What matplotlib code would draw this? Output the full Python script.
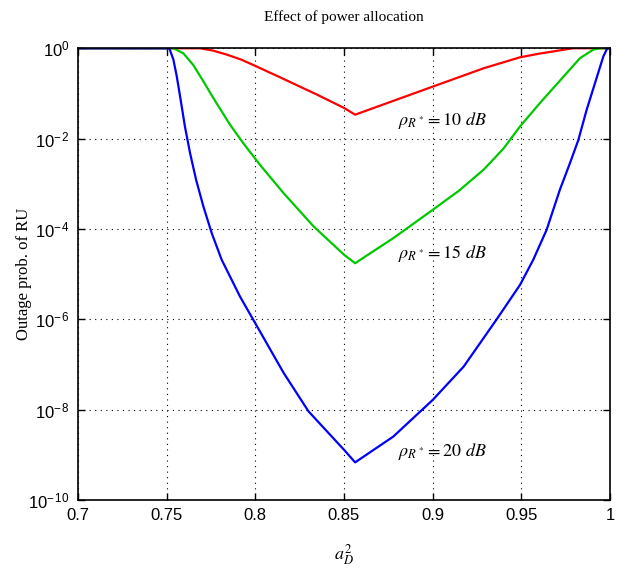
import numpy as np
import matplotlib
matplotlib.use('Agg')
import matplotlib.pyplot as plt
from matplotlib.ticker import FixedLocator, FixedFormatter

plt.rcParams['mathtext.fontset'] = 'stix'

# Datos (log10 de la probabilidad de corte)
x_red = [0.70, 0.7688, 0.776, 0.7839, 0.792, 0.800, 0.816, 0.835, 0.850, 0.8563,
         0.900, 0.929, 0.9493, 0.960, 0.968, 0.979, 1.0]
logy_red = [0, 0, -0.05, -0.14, -0.25, -0.39, -0.68, -1.03, -1.32, -1.47,
            -0.85, -0.44, -0.20, -0.12, -0.07, 0, 0]

x_green = [0.70, 0.7538, 0.7594, 0.765, 0.7707, 0.7763, 0.7857, 0.7932, 0.8026, 0.816,
           0.833, 0.850, 0.8563, 0.878, 0.900, 0.915, 0.929, 0.940, 0.9493, 0.9606,
           0.9681, 0.9756, 0.9831, 0.9906, 0.9944, 1.0]
logy_green = [0, 0, -0.11, -0.37, -0.73, -1.10, -1.69, -2.10, -2.58, -3.21,
              -3.95, -4.57, -4.76, -4.20, -3.58, -3.15, -2.68, -2.22, -1.73, -1.21,
              -0.88, -0.55, -0.22, -0.03, 0, 0]

x_blue = [0.70, 0.7515, 0.7538, 0.7557, 0.7579, 0.7603, 0.7632, 0.7666, 0.7707, 0.7754,
          0.7810, 0.7914, 0.800, 0.816, 0.830, 0.850, 0.8563, 0.8778, 0.900, 0.9175,
          0.936, 0.9493, 0.9568, 0.9643, 0.9718, 0.9775, 0.9822, 0.9869, 0.9916, 0.9963,
          0.9985, 1.0]
logy_blue = [0, 0, -0.25, -0.62, -1.14, -1.73, -2.32, -2.91, -3.50, -4.09,
             -4.68, -5.50, -6.09, -7.19, -8.04, -8.89, -9.17, -8.60, -7.79, -7.05,
             -6.01, -5.24, -4.68, -4.02, -3.13, -2.54, -2.03, -1.36, -0.77, -0.18,
             0, 0]

etiquetas = [r'$\rho_{R^*} = 10\ dB$', r'$\rho_{R^*} = 15\ dB$', r'$\rho_{R^*} = 20\ dB$']
pos_etiquetas = [(0.8805, 10**-1.6), (0.8805, 10**-4.55), (0.8805, 10**-8.94)]

xticks = [0.7, 0.75, 0.8, 0.85, 0.9, 0.95, 1]
xticklabels = ['0.7', '0.75', '0.8', '0.85', '0.9', '0.95', '1']
yticks = [1e-10, 1e-8, 1e-6, 1e-4, 1e-2, 1e0]
yticklabels = [r'$\mathregular{10^{-\,10}}$', r'$\mathregular{10^{-\,8}}$', r'$\mathregular{10^{-\,6}}$',
               r'$\mathregular{10^{-\,4}}$', r'$\mathregular{10^{-\,2}}$', r'$\mathregular{10^{0}}$']

fig = plt.figure(figsize=(6.34, 5.68), dpi=100)
ax = fig.add_axes([0.123, 0.12, 0.839, 0.795])

ax.semilogy(x_red, 10**np.array(logy_red), color='#ff0000', lw=1.6)
ax.semilogy(x_green, 10**np.array(logy_green), color='#00c800', lw=1.6)
ax.semilogy(x_blue, 10**np.array(logy_blue), color='#0000ff', lw=1.6)

ax.set_xlim(0.7, 1.0)
ax.set_ylim(1e-10, 1e0)
ax.xaxis.set_major_locator(FixedLocator(xticks))
ax.xaxis.set_major_formatter(FixedFormatter(xticklabels))
ax.yaxis.set_major_locator(FixedLocator(yticks))
ax.yaxis.set_major_formatter(FixedFormatter(yticklabels))
ax.yaxis.set_minor_locator(FixedLocator([]))
ax.tick_params(direction='in', top=True, right=True, length=5, width=1,
               labelsize=12, pad=6)
for lbl in ax.get_xticklabels() + ax.get_yticklabels():
    lbl.set_family('Liberation Sans')
ax.grid(True, linestyle=(0, (1, 4)), color='black', lw=0.8)
for s in ax.spines.values():
    s.set_linewidth(1.2)

for txt, (xt, yt) in zip(etiquetas, pos_etiquetas):
    ax.text(xt, yt, txt, fontsize=13, va='center', ha='left')

ax.set_title('Effect of power allocation', family='Liberation Serif', fontsize=11, pad=20)
ax.set_xlabel(r'$a_D^2$', fontsize=13, labelpad=14)
ax.set_ylabel('Outage prob. of RU', family='Liberation Serif', fontsize=12, labelpad=-3)

fig.savefig('out.png', dpi=100)
